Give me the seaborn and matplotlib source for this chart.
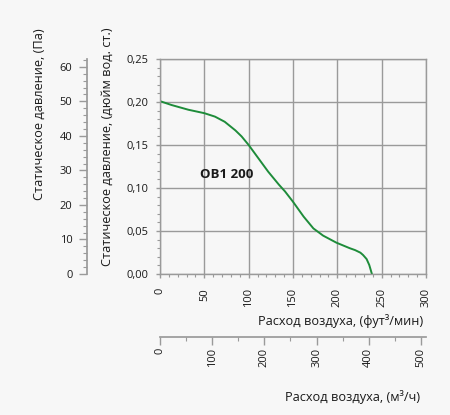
import numpy as np
import pandas as pd
import matplotlib
matplotlib.use('Agg')
import matplotlib.pyplot as plt
import seaborn as sns
from matplotlib.ticker import MultipleLocator, FuncFormatter

# fan curve (flow in cfm, static pressure in inches of water)
flow_cfm = [0, 13, 32, 50, 62, 73, 85, 92, 100, 111, 122, 134, 141, 150, 162, 173,
            184, 199, 214, 220, 226, 229, 233, 236, 239]
press_inwg = [0.201, 0.1965, 0.191, 0.187, 0.183, 0.177, 0.167, 0.160, 0.150, 0.1345,
              0.119, 0.104, 0.096, 0.084, 0.0667, 0.053, 0.0446, 0.0364, 0.030, 0.0278,
              0.0248, 0.0221, 0.0174, 0.0105, 0.0]
model_name = "OB1 200"

y_label_pa = "Статическое давление, (Па)"
y_label_in = "Статическое давление, (дюйм вод. ст.)"
x_label_cfm = "Расход воздуха, (фут³/мин)"
x_label_m3h = "Расход воздуха, (м³/ч)"

PA_PER_INWG = 249.0889
M3H_PER_CFM = 1.699

df = pd.DataFrame({'flow': flow_cfm, 'press': press_inwg})

sns.set_theme(style='white')
plt.rcParams['font.family'] = ['Open Sans', 'DejaVu Sans']
bg = '#f7f7f7'
grey = '#9a9a9a'
txt = '#1a1a1a'

W, H = 450, 415
fig = plt.figure(figsize=(W / 100, H / 100), dpi=100, facecolor=bg)

def box(x0, y0, x1, y1):
    # pixel box (top-left origin) -> figure fraction
    return [x0 / W, 1 - y1 / H, (x1 - x0) / W, (y1 - y0) / H]

comma = FuncFormatter(lambda v, p: f"{v:.2f}".replace('.', ','))

# main axes
ax = fig.add_axes(box(160, 59, 426, 274))
ax.set_facecolor(bg)
sns.lineplot(data=df, x='flow', y='press', ax=ax, color='#1e8c3a', linewidth=1.4)
ax.set_xlim(0, 300)
ax.set_ylim(0, 0.25)
ax.xaxis.set_major_locator(MultipleLocator(50))
ax.xaxis.set_minor_locator(MultipleLocator(10))
ax.yaxis.set_major_locator(MultipleLocator(0.05))
ax.yaxis.set_minor_locator(MultipleLocator(0.01))
ax.yaxis.set_major_formatter(comma)
ax.grid(True, which='major', color=grey, linewidth=1)
for s in ax.spines.values():
    s.set_color(grey)
    s.set_linewidth(1)
ax.tick_params(which='major', direction='out', length=3, width=1, color=grey,
               labelsize=8, labelcolor=txt)
ax.tick_params(which='minor', direction='out', length=2.2, width=0.8, color=grey)
ax.tick_params(axis='y', which='both', left=True, pad=5)
ax.tick_params(axis='x', which='both', bottom=True, pad=7, labelrotation=90)
ax.set_xlabel('')
ax.set_ylabel('')
ax.text(45, 0.116, model_name, fontsize=9.5, fontweight='bold', color=txt, va='center')

# pascal axis on the far left
ax_pa = fig.add_axes(box(87, 59, 87.01, 274))
ax_pa.patch.set_visible(False)
ax_pa.set_ylim(0, 0.25 * PA_PER_INWG)
ax_pa.yaxis.set_major_locator(MultipleLocator(10))
ax_pa.yaxis.set_minor_locator(MultipleLocator(2))
ax_pa.set_xticks([])
for k in ['top', 'right', 'bottom']:
    ax_pa.spines[k].set_visible(False)
ax_pa.spines['left'].set_color(grey)
ax_pa.tick_params(axis='y', which='major', direction='out', length=5.5, width=1, color=grey,
                  labelsize=8, labelcolor=txt, pad=5, left=True)
ax_pa.tick_params(axis='y', which='minor', direction='out', length=3.2, width=0.8, color=grey,
                  left=True)

# m3/h axis below
ax_m = fig.add_axes(box(160, 337, 426, 337.01))
ax_m.patch.set_visible(False)
ax_m.set_xlim(0, 300 * M3H_PER_CFM)
ax_m.xaxis.set_major_locator(MultipleLocator(100))
ax_m.xaxis.set_minor_locator(MultipleLocator(50))
ax_m.set_yticks([])
for k in ['top', 'right', 'left']:
    ax_m.spines[k].set_visible(False)
ax_m.spines['bottom'].set_color(grey)
ax_m.tick_params(axis='x', which='major', direction='out', length=5.5, width=1, color=grey,
                 labelsize=8, labelcolor=txt, pad=2, labelrotation=90, bottom=True)
ax_m.tick_params(axis='x', which='minor', direction='out', length=3.2, width=0.8, color=grey,
                 bottom=True)

# axis titles
fig.text(39 / W, 1 - 28 / H, y_label_pa, rotation=90, ha='center', va='top',
         fontsize=9.2, color=txt)
fig.text(107 / W, 1 - 27 / H, y_label_in, rotation=90, ha='center', va='top',
         fontsize=9.2, color=txt)
fig.text(423 / W, 1 - 321 / H, x_label_cfm, ha='right', va='center', fontsize=9.2, color=txt)
fig.text(420 / W, 1 - 397 / H, x_label_m3h, ha='right', va='center', fontsize=9.2, color=txt)

fig.savefig('out.png', dpi=100, facecolor=bg)
